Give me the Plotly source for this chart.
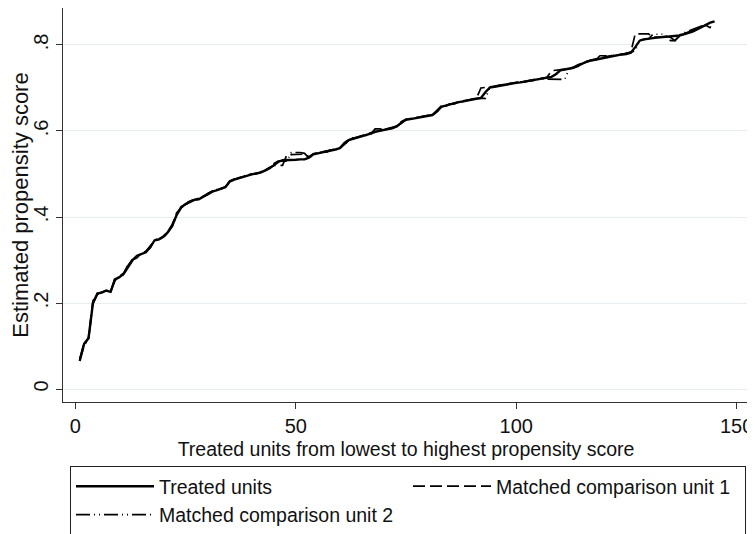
import plotly.graph_objects as go

# Treated units ranked 1..145
unit_rank = list(range(1, 146))

treated = [
    0.065, 0.105, 0.118, 0.200, 0.222, 0.224, 0.229, 0.226, 0.255, 0.260,
    0.268, 0.285, 0.300, 0.310, 0.314, 0.318, 0.330, 0.346, 0.348, 0.354,
    0.365, 0.380, 0.405, 0.422, 0.430, 0.436, 0.440, 0.441, 0.447, 0.453,
    0.459, 0.462, 0.465, 0.469, 0.482, 0.487, 0.490, 0.493, 0.497, 0.499,
    0.501, 0.503, 0.508, 0.513, 0.520, 0.528, 0.532, 0.532, 0.533, 0.533,
    0.534, 0.534, 0.538, 0.546, 0.548, 0.550, 0.552, 0.555, 0.557, 0.560,
    0.570, 0.579, 0.582, 0.585, 0.587, 0.590, 0.594, 0.598, 0.600, 0.602,
    0.604, 0.607, 0.611, 0.620, 0.626, 0.628, 0.630, 0.631, 0.633, 0.635,
    0.637, 0.645, 0.656, 0.659, 0.662, 0.664, 0.667, 0.669, 0.671, 0.673,
    0.675, 0.677, 0.690, 0.701, 0.703, 0.705, 0.707, 0.709, 0.711, 0.712,
    0.713, 0.715, 0.716, 0.718, 0.720, 0.722, 0.724, 0.726, 0.732, 0.741,
    0.743, 0.745, 0.747, 0.752, 0.757, 0.761, 0.764, 0.766, 0.769, 0.771,
    0.773, 0.775, 0.776, 0.778, 0.779, 0.782, 0.795, 0.810, 0.813, 0.815,
    0.816, 0.817, 0.818, 0.818, 0.819, 0.820, 0.822, 0.825, 0.828, 0.831,
    0.836, 0.842, 0.847, 0.852, 0.855,
]

matched_1 = [
    0.068, 0.100, 0.120, 0.205, 0.222, 0.225, 0.228, 0.228, 0.252, 0.262,
    0.270, 0.290, 0.300, 0.305, 0.316, 0.320, 0.332, 0.345, 0.349, 0.356,
    0.366, 0.383, 0.410, 0.420, 0.432, 0.437, 0.440, 0.443, 0.447, 0.455,
    0.460, 0.463, 0.466, 0.470, 0.480, 0.487, 0.491, 0.494, 0.497, 0.500,
    0.502, 0.504, 0.508, 0.515, 0.520, 0.520, 0.520, 0.545, 0.545, 0.546,
    0.546, 0.546, 0.540, 0.547, 0.549, 0.551, 0.553, 0.556, 0.558, 0.561,
    0.573, 0.580, 0.583, 0.586, 0.588, 0.592, 0.596, 0.599, 0.600, 0.603,
    0.605, 0.608, 0.612, 0.622, 0.627, 0.629, 0.631, 0.632, 0.634, 0.636,
    0.638, 0.648, 0.658, 0.660, 0.663, 0.665, 0.668, 0.670, 0.672, 0.674,
    0.676, 0.700, 0.701, 0.702, 0.704, 0.706, 0.708, 0.710, 0.711, 0.713,
    0.714, 0.716, 0.717, 0.719, 0.721, 0.723, 0.725, 0.740, 0.741, 0.742,
    0.744, 0.746, 0.748, 0.754, 0.758, 0.762, 0.765, 0.767, 0.770, 0.772,
    0.774, 0.776, 0.777, 0.779, 0.780, 0.783, 0.826, 0.826, 0.826, 0.826,
    0.818, 0.818, 0.819, 0.820, 0.810, 0.810, 0.820, 0.826, 0.830, 0.834,
    0.838, 0.842, 0.846, 0.840, 0.838,
]

matched_2 = [
    0.070, 0.108, 0.116, 0.198, 0.220, 0.223, 0.230, 0.224, 0.258, 0.259,
    0.266, 0.288, 0.302, 0.308, 0.313, 0.320, 0.328, 0.347, 0.350, 0.352,
    0.364, 0.378, 0.404, 0.424, 0.429, 0.435, 0.442, 0.440, 0.448, 0.452,
    0.458, 0.464, 0.464, 0.468, 0.484, 0.488, 0.489, 0.495, 0.498, 0.500,
    0.500, 0.504, 0.510, 0.512, 0.524, 0.530, 0.530, 0.530, 0.550, 0.550,
    0.550, 0.548, 0.537, 0.545, 0.549, 0.551, 0.551, 0.556, 0.556, 0.561,
    0.568, 0.578, 0.584, 0.584, 0.590, 0.590, 0.593, 0.605, 0.605, 0.603,
    0.605, 0.606, 0.612, 0.618, 0.627, 0.627, 0.630, 0.632, 0.634, 0.636,
    0.638, 0.644, 0.657, 0.658, 0.663, 0.663, 0.668, 0.668, 0.672, 0.674,
    0.676, 0.676, 0.676, 0.700, 0.702, 0.705, 0.708, 0.708, 0.712, 0.712,
    0.714, 0.714, 0.717, 0.717, 0.721, 0.721, 0.720, 0.720, 0.720, 0.720,
    0.720, 0.744, 0.748, 0.750, 0.758, 0.760, 0.765, 0.765, 0.775, 0.775,
    0.774, 0.776, 0.777, 0.778, 0.781, 0.784, 0.786, 0.812, 0.813, 0.814,
    0.825, 0.825, 0.825, 0.820, 0.818, 0.810, 0.823, 0.828, 0.832, 0.836,
    0.840, 0.844, 0.848, 0.842, 0.840,
]

x_tick_vals = [0, 50, 100, 150]
x_tick_text = ["0", "50", "100", "150"]
y_tick_vals = [0, 0.2, 0.4, 0.6, 0.8]
y_tick_text = ["0", ".2", ".4", ".6", ".8"]

FONT = "Liberation Sans, Arial, sans-serif"
INK = "#111111"

# the page body adds an 8px offset, so the figure is sized to fit the window
FIG_W, FIG_H = 747, 526

fig = go.Figure()
fig.add_trace(go.Scatter(
    x=unit_rank, y=treated, mode="lines", name="Treated units",
    line=dict(color="#000000", width=2.4),
))
fig.add_trace(go.Scatter(
    x=unit_rank, y=matched_1, mode="lines", name="Matched comparison unit 1",
    line=dict(color="#000000", width=1.7, dash="12px,5px"),
))
fig.add_trace(go.Scatter(
    x=unit_rank, y=matched_2, mode="lines", name="Matched comparison unit 2",
    line=dict(color="#000000", width=1.7, dash="14px,4px,1px,4px,1px,4px"),
))

fig.update_layout(
    width=FIG_W, height=FIG_H,
    margin=dict(l=55, r=6, t=0, b=132, autoexpand=False),
    paper_bgcolor="white", plot_bgcolor="white",
    font=dict(family=FONT, color=INK, size=19),
    showlegend=True,
    legend=dict(
        orientation="h",
        xref="container", yref="container",
        x=62 / FIG_W, xanchor="left",
        y=1 - 458 / FIG_H, yanchor="top",
        bordercolor="#222222", borderwidth=1,
        bgcolor="white",
        font=dict(family=FONT, size=19.5, color=INK),
        entrywidth=244,
        entrywidthmode="pixels",
        itemwidth=78,
        tracegroupgap=0,
    ),
    xaxis=dict(
        range=[-2.79, 152.8],
        automargin=False,
        tickmode="array", tickvals=x_tick_vals, ticktext=x_tick_text,
        ticks="outside", ticklen=6, tickcolor="#333333", tickwidth=1,
        showline=True, linecolor="#333333", linewidth=1.2,
        showgrid=False, zeroline=False,
        ticklabeloverflow="allow",
        tickfont=dict(family=FONT, size=20, color=INK),
        title=dict(text="Treated units from lowest to highest propensity score",
                   font=dict(family=FONT, size=19.5, color=INK), standoff=6),
    ),
    yaxis=dict(
        range=[-0.0302, 0.886],
        automargin=False,
        tickmode="array", tickvals=y_tick_vals, ticktext=y_tick_text,
        tickangle=-90,
        ticks="outside", ticklen=6, tickcolor="#333333", tickwidth=1,
        showline=True, linecolor="#333333", linewidth=1.2,
        showgrid=True, gridcolor="#e6eef0", gridwidth=1,
        zeroline=False,
        tickfont=dict(family=FONT, size=20, color=INK),
        title=dict(text="Estimated propensity score",
                   font=dict(family=FONT, size=22, color=INK), standoff=6),
    ),
)

fig.write_html("out.html")
